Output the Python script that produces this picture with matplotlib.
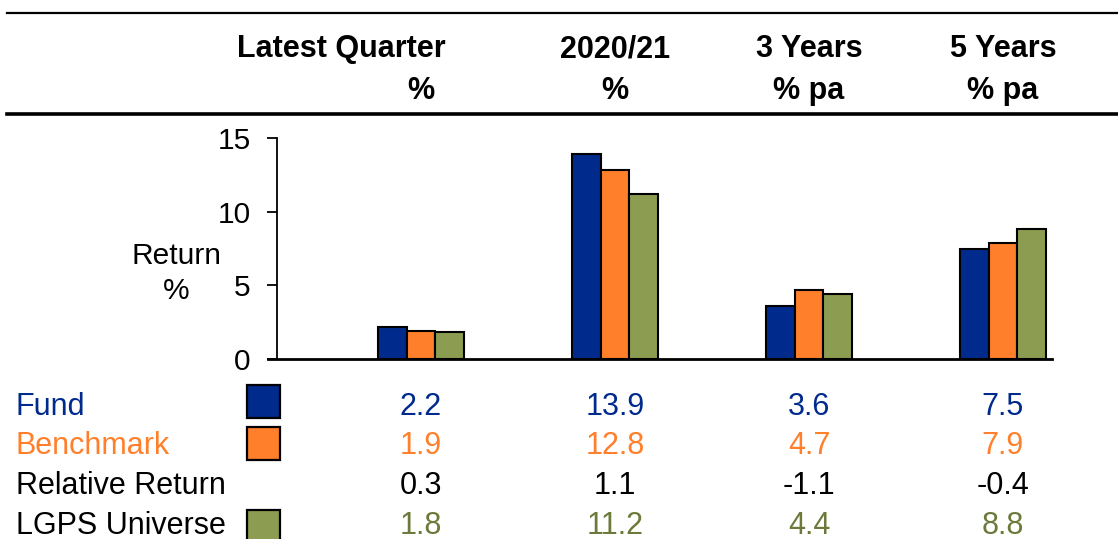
import numpy as np
import matplotlib.pyplot as plt
from matplotlib.patches import Rectangle
from matplotlib.lines import Line2D
from matplotlib.transforms import blended_transform_factory

plt.rcParams['font.family'] = ['Liberation Sans', 'DejaVu Sans']

# Return data
periods = ['Latest Quarter', '2020/21', '3 Years', '5 Years']
period_units = ['%', '%', '% pa', '% pa']
fund = [2.2, 13.9, 3.6, 7.5]
benchmark = [1.9, 12.8, 4.7, 7.9]
relative = [0.3, 1.1, -1.1, -0.4]
lgps = [1.8, 11.2, 4.4, 8.8]

c_fund = '#002A8C'
c_bench = '#FF7F2A'
c_lgps = '#8C9C50'
t_lgps = '#6B7A3A'

W, H = 1118, 539
fig = plt.figure(figsize=(W / 100, H / 100), dpi=100)
fig.patch.set_facecolor('white')


def fx(x):
    return x / W


def fy(y):
    return 1 - y / H


# ---- bar chart
ax = fig.add_axes([fx(268), fy(359), fx(1052) - fx(268), (359 - 138) / H])
x = np.arange(len(periods))
bw = 0.148
kw = dict(width=bw, edgecolor='black', linewidth=1.5)
ax.bar(x - bw, fund, color=c_fund, **kw)
ax.bar(x, benchmark, color=c_bench, **kw)
ax.bar(x + bw, lgps, color=c_lgps, **kw)

ax.set_xlim(-0.789, 3.253)
ax.set_ylim(0, 15)
ax.set_yticks([0, 5, 10, 15])
ax.set_xticks([])
for s in ['top', 'right']:
    ax.spines[s].set_visible(False)
ax.spines['left'].set_position(('data', -0.742))
ax.spines['left'].set_linewidth(1.3)
ax.spines['bottom'].set_linewidth(2)
ax.tick_params(axis='y', direction='out', length=7, width=1.3,
               labelsize=21.5, pad=12)

fig.text(fx(177), fy(264), 'Return', fontsize=21.5, ha='center', va='baseline')
fig.text(fx(176), fy(299), '%', fontsize=21.5, ha='center', va='baseline')

# column positions follow the bar groups
col = blended_transform_factory(ax.transData, fig.transFigure)

# ---- header
fig.add_artist(Line2D([fx(7), 1], [fy(13), fy(13)], color='black', lw=1.6))
fig.add_artist(Line2D([fx(7), 1], [fy(113.5), fy(113.5)], color='black', lw=2.6))

for i, (p, u) in enumerate(zip(periods, period_units)):
    hx = i if i > 0 else -0.41
    fig.text(hx, fy(57), p, fontsize=22, fontweight='bold',
             ha='center', va='baseline', transform=col)
    fig.text(i, fy(99), u, fontsize=22, fontweight='bold',
             ha='center', va='baseline', transform=col)

# ---- table below the chart: label, values, text colour, key colour,
# text baseline, key box top (pixels from the top)
rows = [
    ('Fund', fund, c_fund, c_fund, 415, 385),
    ('Benchmark', benchmark, c_bench, c_bench, 454, 427),
    ('Relative Return', relative, 'black', None, 494, None),
    ('LGPS Universe', lgps, t_lgps, c_lgps, 534, 510),
]
for label, vals, tcol, box, ry, by in rows:
    lc = 'black' if label == 'LGPS Universe' else tcol
    fig.text(fx(16), fy(ry), label, fontsize=22, color=lc,
             ha='left', va='baseline')
    for i, v in enumerate(vals):
        fig.text(i, fy(ry), f'{v:.1f}', fontsize=22, color=tcol,
                 ha='center', va='baseline', transform=col)
    if box is not None:
        fig.add_artist(Rectangle((fx(247), fy(by + 33)), 33 / W, 33 / H,
                                 transform=fig.transFigure, facecolor=box,
                                 edgecolor='black', lw=1.6))

fig.savefig('out.png', dpi=100, facecolor='white')
